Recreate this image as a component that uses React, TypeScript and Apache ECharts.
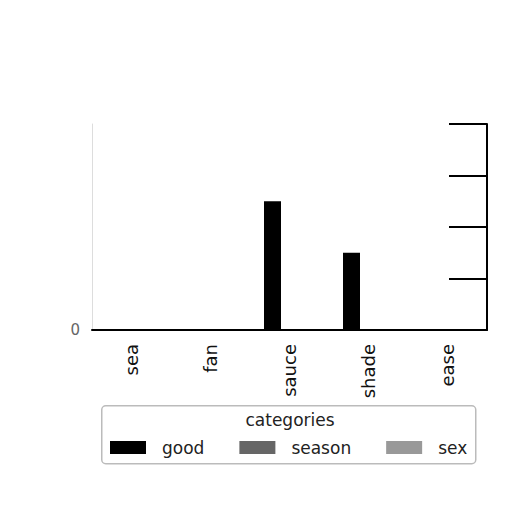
import React, { useEffect, useRef } from 'react'
import * as echarts from 'echarts'

const categories = ['sea', 'fan', 'sauce', 'shade', 'ease']
const seriesNames = ['good', 'season', 'sex']
const goodValues = [0, 0, 2.5, 1.5, 0]
const seasonValues = [0, 0, 0, 0, 0]
const sexValues = [0, 0, 0, 0, 0]
const seriesColors = ['#000000', '#666666', '#999999']

export default function App(): JSX.Element {
  const ref = useRef<HTMLDivElement>(null)

  useEffect(() => {
    if (!ref.current) return
    const chart = echarts.init(ref.current, undefined, { renderer: 'svg' })
    const values = [goodValues, seasonValues, sexValues]
    chart.setOption({
      animation: false,
      textStyle: { fontFamily: 'DejaVu Sans' },
      grid: { left: 92, right: 25, top: 124, bottom: 182 },
      xAxis: {
        type: 'category', data: categories,
        axisLine: { lineStyle: { color: '#000', width: 2 } },
        axisTick: { alignWithLabel: true, lineStyle: { color: '#000' }, length: 6 },
        axisLabel: { rotate: 90, fontSize: 18, color: '#111', margin: 14 },
      },
      yAxis: [
        {
          type: 'value', min: 0, max: 4, interval: 1,
          axisLine: { show: true, lineStyle: { color: '#ddd', width: 1 } },
          axisTick: { show: false },
          axisLabel: { fontSize: 15, color: '#666', margin: 12, formatter: (v: number) => (v === 0 ? '0' : '') },
          splitLine: { show: false },
        },
        {
          type: 'value', min: 0, max: 4, interval: 1, position: 'right',
          axisLine: { show: true, lineStyle: { color: '#000', width: 2 } },
          axisTick: { show: true, inside: true, length: 38, lineStyle: { color: '#000', width: 2 } },
          axisLabel: { show: false },
          splitLine: { show: false },
        },
      ],
      legend: {
        left: 105, top: 434,
        itemWidth: 36, itemHeight: 13, itemGap: 35,
        icon: 'rect',
        textStyle: { fontSize: 17, color: '#222', padding: [0, 0, 0, 11] },
        data: seriesNames,
      },
      graphic: [
        {
          type: 'rect', left: 101, top: 405,
          shape: { width: 374, height: 58, r: 4 },
          style: { fill: '#fff', stroke: '#bbb', lineWidth: 1.5 }, z: -1,
        },
        {
          type: 'text', x: 290, y: 411,
          style: { text: 'categories', fontSize: 17, fill: '#222', fontFamily: 'DejaVu Sans', align: 'center' },
        },
      ],
      series: seriesNames.map((name, i) => ({
        name, type: 'bar', data: values[i], barWidth: 17, barGap: '0%',
        itemStyle: { color: seriesColors[i] },
      })),
    })
    return () => { chart.dispose() }
  }, [])

  return <div ref={ref} style={{ position: 'fixed', left: 0, top: 0, width: 512, height: 512, background: '#fff' }} />
}
